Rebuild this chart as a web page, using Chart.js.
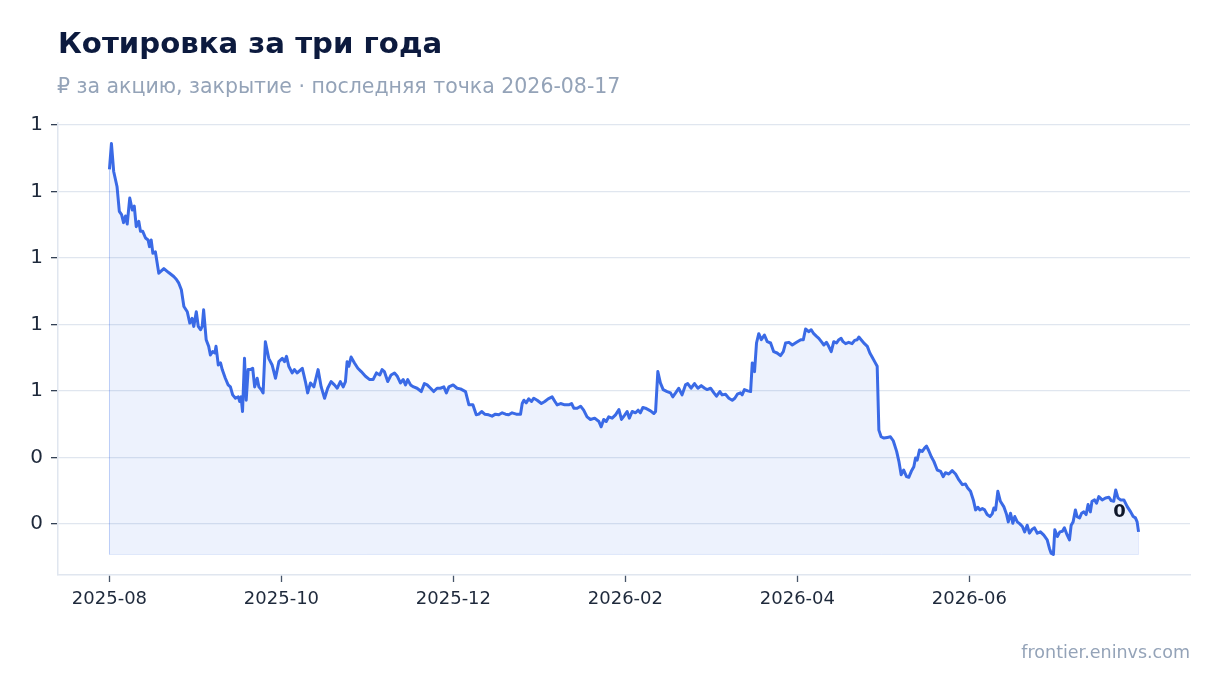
<!DOCTYPE html>
<html lang="ru">
<head>
<meta charset="utf-8">
<title>Котировка за три года</title>
<script src="https://cdn.jsdelivr.net/npm/chart.js@4.4.1/dist/chart.umd.min.js"></script>
<style>
  html, body { margin: 0; padding: 0; background: #fff; }
  body { width: 1220px; height: 693px; position: relative; overflow: hidden; font-family: 'DejaVu Sans', sans-serif; }
  .title { position: absolute; left: 58px; top: 28.6px; font-size: 29.2px; line-height: 1; font-weight: 700; color: #0c1a3e; white-space: nowrap; }
  .subtitle { position: absolute; left: 57px; top: 76px; font-size: 20.5px; line-height: 1; color: #94a3b8; white-space: nowrap; }
  .source { position: absolute; right: 30px; top: 643.5px; font-size: 17.5px; line-height: 1; color: #94a3b8; white-space: nowrap; }
  .wrap { position: absolute; left: 0; top: 0; width: 1220px; height: 693px; }
</style>
</head>
<body>
<div class="wrap"><canvas id="quoteChart"></canvas></div>
<div class="title">Котировка за три года</div>
<div class="subtitle">₽ за акцию, закрытие · последняя точка 2026-08-17</div>
<div class="source">frontier.eninvs.com</div>
<script>
// days since 2025-08-17
const DAYS = [
  0,0.7,1.5,2.7,3.5,4.3,5.0,5.7,6.3,7.2,8.1,8.8,9.5,10.4,11.0,11.8,12.8,13.7,14.2,14.8,15.4,16.3,17.5,19.3,21.0,22.8,23.7,24.6,25.5,26.4,
  27.6,28.5,29.3,29.9,30.8,31.5,32.3,32.9,33.4,34.3,35.2,35.8,36.6,37.4,37.8,38.6,39.4,40.0,41.1,42.1,42.9,43.7,44.7,45.7,46.2,46.7,47.2,47.9,48.5,49.2,
  50.0,50.8,51.5,52.4,53.0,53.8,54.5,55.3,56.5,57.7,58.9,
  60.1,61.3,62.1,62.8,63.6,64.8,65.6,66.6,68.4,69.5,70.3,71.3,72.5,74.0,75.1,76.3,77.4,78.6,79.8,80.8,81.9,82.9,83.7,84.3,84.9,85.7,86.9,88.1,89.3,90.8,
  92.3,93.5,94.7,95.9,96.7,97.5,98.7,99.9,101.1,102.1,103.2,104.2,105.0,105.8,106.8,107.9,109.1,110.6,111.7,112.7,113.9,115.0,116.2,117.4,118.6,119.5,120.4,121.9,123.3,124.5,
  126.3,127.5,128.9,130.1,131.0,132.0,133.1,134.5,135.7,136.9,138.1,139.3,140.5,141.6,142.8,144.3,145.8,146.4,147.0,147.8,148.7,149.7,150.5,151.7,153.2,154.4,155.6,157.0,158.0,158.8,
  160.0,161.5,162.9,163.9,164.7,165.9,167.1,168.2,169.4,170.6,172.1,173.6,174.4,175.3,176.2,177.1,178.3,179.5,180.7,181.6,182.8,183.6,184.4,185.4,186.6,187.5,188.3,189.2,190.1,
  191.9,193.1,193.7,194.5,195.4,196.4,197.8,199.0,199.8,200.8,201.9,203.1,204.3,205.1,206.3,207.5,208.7,209.9,211.1,212.0,213.2,214.4,215.3,216.5,217.3,218.5,219.7,220.9,221.8,222.7,
  223.8,224.4,225.2,226.4,227.4,228.0,228.8,229.5,230.3,231.2,232.3,233.3,234.5,235.6,236.8,238.0,239.0,239.8,241.0,242.2,243.7,245.2,
  246.1,246.9,248.1,248.9,249.8,250.8,251.6,252.5,253.4,254.3,255.1,256.0,256.9,257.9,258.7,259.5,260.2,261.1,262.2,263.4,264.3,265.2,265.8,266.6,267.8,268.8,269.7,270.5,271.4,272.3,
  272.9,273.7,274.7,275.9,277.0,278.0,279.2,280.0,280.8,281.7,282.7,283.5,284.4,285.3,285.9,286.5,287.3,288.3,289.1,289.8,290.6,291.5,292.4,293.6,294.8,295.7,296.5,297.7,298.9,300.1,
  301.3,302.5,303.6,
  304.4,305.4,306.4,307.2,308.0,308.7,309.6,310.4,311.3,312.3,313.1,313.7,314.3,315.1,316.0,317.2,318.2,318.8,319.6,320.4,321.1,322.0,322.9,323.8,324.6,325.5,326.3,327.3,328.1,329.1,
  330.2,331.4,332.6,333.4,334.0,334.8,335.3,336.2,337.1,338.0,338.7,339.7,340.5,341.1,341.8,342.6,343.2,344.1,344.8,345.6,346.4,347.1,347.9,348.5,349.4,350.1,350.9,352.1,353.3,354.5,
  355.3,356.2,356.9,357.7,358.6,359.8,361.0,362.2,363.1,363.9,364.5,365.0
];

// closing price, ₽
const PRICE = [
  .833,.872,.830,.807,.770,.765,.753,.763,.751,.790,.772,.778,.747,.755,.740,.740,.730,.727,.717,.727,.707,.709,.677,.684,.678,.672,.668,.662,.652,.627,
  .619,.602,.609,.597,.619,.597,.592,.597,.622,.577,.567,.554,.559,.557,.567,.539,.542,.532,.519,.509,.506,.494,.489,.491,.484,.491,.469,.549,.486,.532,
  .532,.534,.506,.519,.506,.502,.497,.574,.549,.539,.519,
  .544,.549,.544,.552,.537,.527,.532,.527,.534,.514,.497,.512,.506,.532,.506,.489,.504,.514,.509,.504,.514,.506,.514,.544,.537,.551,.542,.534,.529,.522,
  .517,.517,.527,.524,.532,.529,.514,.524,.527,.522,.512,.517,.509,.517,.509,.506,.504,.499,.511,.509,.504,.499,.504,.504,.506,.497,.506,.509,.504,.503,
  .499,.479,.479,.464,.465,.469,.465,.464,.462,.465,.464,.467,.465,.464,.467,.465,.465,.481,.486,.482,.488,.484,.489,.486,.481,.484,.488,.491,.484,.479,
  .481,.479,.479,.481,.474,.474,.477,.471,.461,.457,.459,.454,.446,.457,.454,.461,.459,.464,.472,.457,.464,.469,.459,.469,.467,.471,.467,.475,.474,
  .470,.466,.469,.529,.512,.502,.499,.497,.491,.497,.504,.494,.509,.511,.504,.511,.504,.508,.504,.502,.504,.497,.492,.499,.494,.495,.489,.486,.489,.495,
  .497,.494,.502,.500,.499,.542,.529,.572,.586,.577,.584,.574,.572,.559,.557,.553,.559,.572,.573,.569,.573,.577,
  .577,.593,.589,.592,.586,.582,.579,.574,.569,.573,.567,.559,.574,.572,.577,.579,.574,.571,.573,.571,.576,.577,.581,.577,.571,.567,.557,.551,.544,.537,
  .441,.431,.429,.430,.431,.425,.409,.394,.374,.381,.371,.370,.379,.386,.399,.396,.411,.409,.414,.417,.410,.401,.394,.381,.379,.371,.377,.375,.380,.375,
  .366,.359,.360,
  .354,.349,.336,.321,.325,.321,.323,.321,.314,.311,.315,.324,.321,.349,.334,.326,.314,.303,.316,.301,.311,.303,.300,.296,.288,.298,.286,.292,.294,.286,
  .288,.283,.276,.263,.256,.254,.291,.281,.288,.289,.294,.283,.276,.298,.303,.321,.311,.309,.316,.318,.314,.329,.318,.334,.336,.331,.341,.336,.339,.340,
  .335,.334,.351,.339,.336,.336,.326,.318,.311,.309,.303,.288
];

const X_TICKS = [0, 61, 122, 183, 244, 305];
const X_LABELS = ['2025-08', '2025-10', '2025-12', '2026-02', '2026-04', '2026-06'];
const Y_TICKS = [0.3, 0.4, 0.5, 0.6, 0.7, 0.8, 0.9];

const LINE = '#3a6ae6';
const GRID = '#e0e6ef';
const TEXT = '#1e293b';

const n = Math.min(DAYS.length, PRICE.length);
if (DAYS.length !== PRICE.length) console.warn('length mismatch', DAYS.length, PRICE.length);
const points = [];
for (let i = 0; i < n; i++) points.push({ x: DAYS[i], y: PRICE[i] });

const minP = Math.min(...PRICE), maxP = Math.max(...PRICE);
const firstDay = DAYS[0], lastDay = DAYS[n - 1];
const padY = (maxP - minP) * 0.05;
const padX = (lastDay - firstDay) * 0.05;

// outline of the shaded area
const outline = [
  { x: firstDay, y: PRICE[0] }, { x: firstDay, y: minP },
  { x: lastDay, y: minP }, { x: lastDay, y: PRICE[n - 1] }
];

// value label next to the last point
const lastLabel = {
  id: 'lastLabel',
  afterDatasetsDraw(chart) {
    const meta = chart.getDatasetMeta(0);
    const pt = meta.data[meta.data.length - 1];
    const ctx = chart.ctx;
    ctx.save();
    ctx.font = 'bold 18px "DejaVu Sans"';
    ctx.fillStyle = '#0f172a';
    ctx.textAlign = 'center';
    ctx.textBaseline = 'middle';
    ctx.fillText(String(Math.round(PRICE[n - 1])), pt.x - 19, pt.y - 19.5);
    ctx.restore();
  }
};

new Chart(document.getElementById('quoteChart'), {
  type: 'line',
  data: {
    datasets: [
      { data: points, borderColor: LINE, borderWidth: 3, pointRadius: 0, tension: 0,
        borderJoinStyle: 'round', fill: { value: minP }, backgroundColor: 'rgba(59,107,230,0.09)', order: 1 },
      { data: outline, borderColor: 'rgba(59,107,230,0.13)', borderWidth: 1, pointRadius: 0, fill: false, order: 2 }
    ]
  },
  options: {
    responsive: true, maintainAspectRatio: false, animation: false,
    layout: { padding: { top: 123, right: 30, bottom: 68, left: 0 } },
    plugins: { legend: { display: false }, tooltip: { enabled: false } },
    scales: {
      x: {
        type: 'linear', min: firstDay - padX, max: lastDay + padX,
        afterBuildTicks: s => { s.ticks = X_TICKS.map(v => ({ value: v })); },
        afterFit: s => { s.height = 50; },
        ticks: { callback: v => X_LABELS[X_TICKS.indexOf(v)], autoSkip: false, maxRotation: 0,
                 font: { family: 'DejaVu Sans', size: 18 }, color: TEXT, padding: 7 },
        grid: { display: true, drawOnChartArea: false, drawTicks: true, tickLength: 7, tickColor: '#475569', tickWidth: 1.3 },
        border: { display: true, color: GRID, width: 1.5 }
      },
      y: {
        type: 'linear', min: minP - padY, max: maxP + padY,
        afterBuildTicks: s => { s.ticks = Y_TICKS.map(v => ({ value: v })); },
        afterFit: s => { s.width = 58; },
        ticks: { callback: v => String(Math.round(v)), font: { family: 'DejaVu Sans', size: 20 }, color: TEXT, padding: 8 },
        grid: { color: GRID, lineWidth: 1.3, tickLength: 7, tickColor: '#334155', tickWidth: 1.3 },
        border: { display: true, color: GRID, width: 1.5 }
      }
    }
  },
  plugins: [lastLabel]
});
</script>
</body>
</html>
